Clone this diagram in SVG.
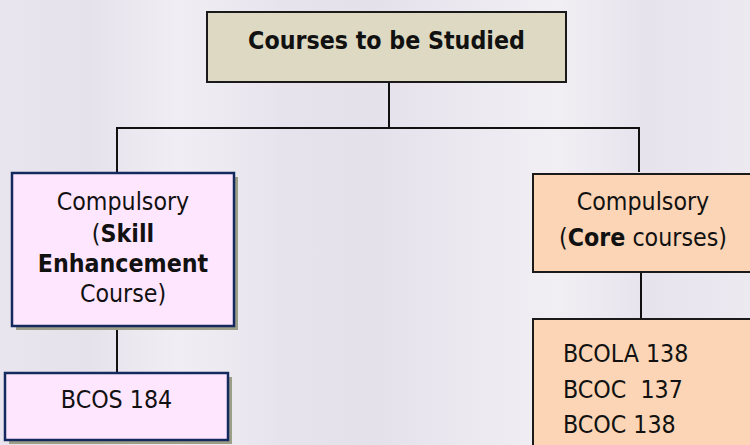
<svg xmlns="http://www.w3.org/2000/svg" width="750" height="445" viewBox="0 0 750 445">
  <defs>
    <linearGradient id="bg" x1="0" y1="0" x2="1" y2="0">
      <stop offset="0" stop-color="#e9e5ef"/>
      <stop offset="0.12" stop-color="#e6e2ec"/>
      <stop offset="0.24" stop-color="#f0eef4"/>
      <stop offset="0.38" stop-color="#e7e3ed"/>
      <stop offset="0.5" stop-color="#e5e1eb"/>
      <stop offset="0.62" stop-color="#ebe8f0"/>
      <stop offset="0.74" stop-color="#f1eff4"/>
      <stop offset="0.86" stop-color="#e7e3ed"/>
      <stop offset="1" stop-color="#ece9f1"/>
    </linearGradient>
  </defs>
  <style>
    text { font-family: "DejaVu Sans Condensed", "DejaVu Sans", sans-serif; font-stretch: condensed; font-size: 24.7px; fill: #111; }
    .b { font-weight: bold; }
    .c { text-anchor: middle; }
    .conn { stroke: #111; stroke-width: 2; fill: none; }
    .shadow { fill: #9c9f88; }
    .pink { fill: #ffe6ff; stroke: #14295e; stroke-width: 2.5; }
    .peach { fill: #fbd5b5; stroke: #1a1a1a; stroke-width: 2; }
    .beige { fill: #ddd9c3; stroke: #1a1a1a; stroke-width: 2; }
  </style>
  <rect x="0" y="0" width="750" height="445" fill="url(#bg)"/>

  <g id="connectors">
    <line class="conn" x1="389" y1="82" x2="389" y2="128"/>
    <line class="conn" x1="116" y1="128" x2="640" y2="128"/>
    <line class="conn" x1="117" y1="128" x2="117" y2="173"/>
    <line class="conn" x1="639" y1="128" x2="639" y2="172"/>
    <line class="conn" x1="117" y1="326" x2="117" y2="373"/>
    <line class="conn" x1="641" y1="272" x2="641" y2="318"/>
  </g>

  <g id="top">
    <rect class="beige" x="207" y="12" width="359" height="70"/>
    <text class="b c" x="386.5" y="49">Courses to be Studied</text>
  </g>

  <g id="skill">
    <rect class="shadow" x="16" y="177" width="222" height="153"/>
    <rect class="pink" x="12" y="173" width="222" height="153"/>
    <text class="c" x="123" y="210">Compulsory</text>
    <text class="c" x="123" y="242">(<tspan class="b">Skill</tspan></text>
    <text class="c b" x="123" y="272">Enhancement</text>
    <text class="c" x="123" y="302">Course)</text>
  </g>

  <g id="bcos">
    <rect class="shadow" x="9" y="377" width="223" height="67"/>
    <rect class="pink" x="5" y="373" width="223" height="67"/>
    <text class="c" x="116.5" y="408">BCOS 184</text>
  </g>

  <g id="core">
    <rect class="peach" x="533" y="174" width="230" height="98"/>
    <text class="c" x="643" y="210">Compulsory</text>
    <text class="c" x="643" y="246">(<tspan class="b">Core</tspan> courses)</text>
  </g>

  <g id="corelist">
    <rect class="peach" x="533" y="319" width="230" height="140"/>
    <text x="563" y="362">BCOLA 138</text>
    <text x="563" y="398" xml:space="preserve">BCOC  137</text>
    <text x="563" y="433">BCOC 138</text>
  </g>
</svg>
